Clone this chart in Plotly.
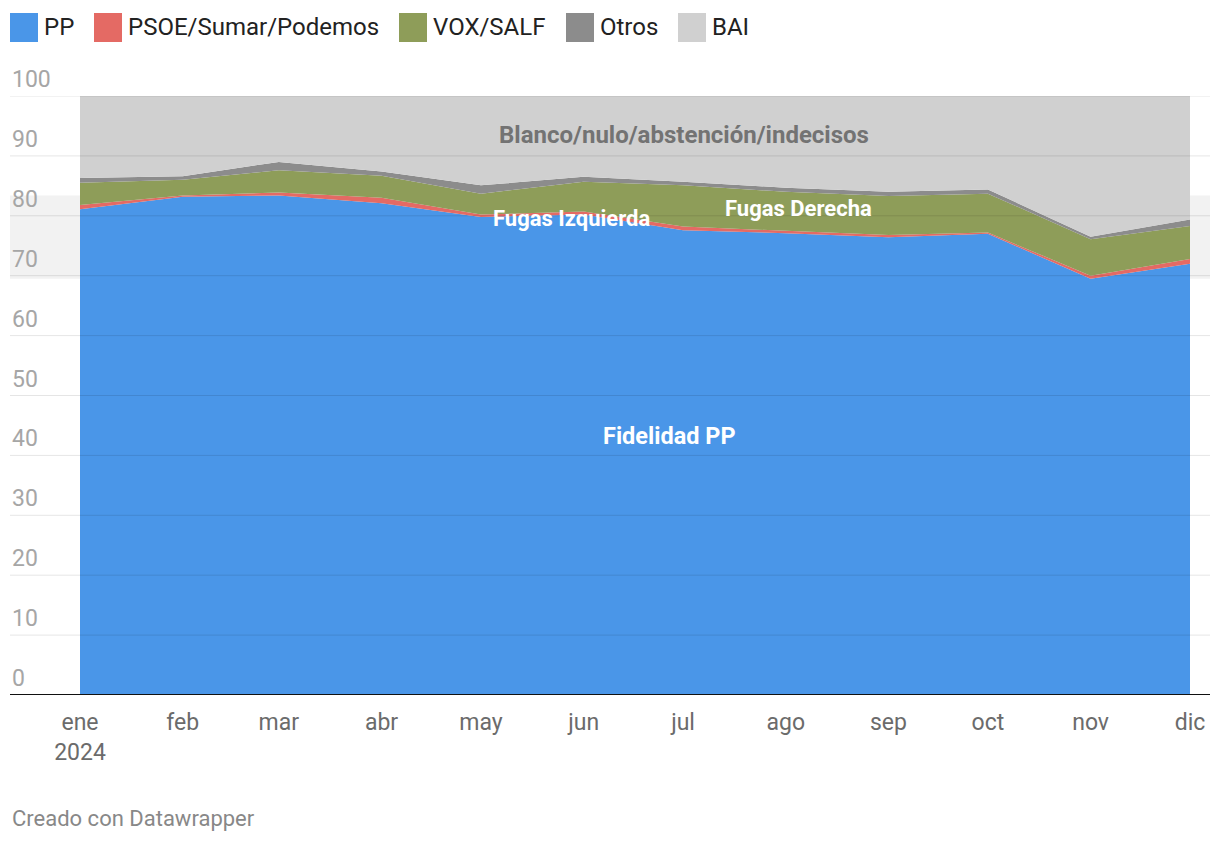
import plotly.graph_objects as go

# Monthly data, 2024 (stacked shares, %)
months = ["2024-01-01", "2024-02-01", "2024-03-01", "2024-04-01", "2024-05-01", "2024-06-01",
          "2024-07-01", "2024-08-01", "2024-09-01", "2024-10-01", "2024-11-01", "2024-12-01"]
month_labels = ["ene<br>2024", "feb", "mar", "abr", "may", "jun",
                "jul", "ago", "sep", "oct", "nov", "dic"]

pp = [81.1, 83.2, 83.4, 82.1, 79.8, 80.2, 77.6, 77.1, 76.4, 77.0, 69.5, 72.0]
psoe = [0.7, 0.2, 0.5, 0.9, 0.4, 0.5, 0.6, 0.4, 0.4, 0.2, 0.5, 0.8]
vox = [3.7, 2.6, 3.7, 3.7, 3.5, 5.0, 6.9, 6.5, 6.5, 6.5, 6.1, 5.5]
otros = [0.8, 0.6, 1.4, 0.7, 1.4, 0.8, 0.6, 0.7, 0.7, 0.7, 0.4, 1.1]
bai = [13.7, 13.4, 11.0, 12.6, 14.9, 13.5, 14.3, 15.3, 16.0, 15.6, 23.5, 20.6]

series = [
    ("PP", pp, "#4a96e8"),
    ("PSOE/Sumar/Podemos", psoe, "#e46a64"),
    ("VOX/SALF", vox, "#8e9d59"),
    ("Otros", otros, "#8c8c8c"),
    ("BAI", bai, "#d0d0d0"),
]

# highlighted range behind the chart
band_low, band_high = 69.5, 83.4

# pixel geometry of the plot area (page coords); the page body adds an 8px offset
OFF = 8
L, R, T, B = 80, 1190, 96, 695
W, H = R - L, B - T
FIG_W, FIG_H = 1220 - OFF, 844 - OFF


def px_x(p):
    return (p - L) / W


def px_y(p):
    return (B - p) / H


fig = go.Figure()

for name, vals, color in series:
    fig.add_trace(go.Scatter(
        x=months, y=vals, name=name, mode="lines",
        stackgroup="one", line=dict(width=0, color=color),
        fillcolor=color, showlegend=False, hoverinfo="x+y+name"
    ))

shapes = []
# highlight band (below)
shapes.append(dict(type="rect", xref="paper", yref="y", layer="below",
                   x0=px_x(10), x1=px_x(1210), y0=band_low, y1=band_high,
                   fillcolor="#f2f2f2", line=dict(width=0)))
# gridlines (above, faint)
for v in range(10, 101, 10):
    shapes.append(dict(type="line", xref="paper", yref="y", layer="above",
                       x0=px_x(10), x1=px_x(1210), y0=v, y1=v,
                       line=dict(color="rgba(0,0,0,0.1)", width=1)))
# baseline
shapes.append(dict(type="line", xref="paper", yref="y", layer="above",
                   x0=px_x(10), x1=px_x(1210), y0=0, y1=0,
                   line=dict(color="#111111", width=2)))

annotations = []
# y labels above gridlines
for v in range(0, 101, 10):
    annotations.append(dict(x=px_x(10), y=v, xref="paper", yref="y",
                            text=str(v), showarrow=False, xanchor="left", yanchor="bottom",
                            yshift=1, font=dict(size=23, color="#a6a6a6")))

# legend (manual)
legend_items = [("PP", 10), ("PSOE/Sumar/Podemos", 94), ("VOX/SALF", 399),
                ("Otros", 566), ("BAI", 678)]
for (name, vals, color), (label, x0) in zip(series, legend_items):
    shapes.append(dict(type="rect", xref="paper", yref="paper",
                       x0=px_x(x0), x1=px_x(x0 + 28), y0=px_y(42), y1=px_y(13),
                       fillcolor=color, line=dict(width=0)))
    annotations.append(dict(x=px_x(x0 + 32), y=px_y(27), xref="paper", yref="paper",
                            text=label, showarrow=False, xanchor="left", yanchor="middle",
                            font=dict(size=24, color="#222222")))

# inline labels
annotations += [
    dict(x=px_x(684), y=93.5, xref="paper", yref="y", text="<b>Blanco/nulo/abstención/indecisos</b>",
         showarrow=False, font=dict(size=24, color="#737373")),
    dict(x=px_x(571), y=79.6, xref="paper", yref="y", text="<b>Fugas Izquierda</b>",
         showarrow=False, font=dict(size=22, color="white")),
    dict(x=px_x(798), y=81.3, xref="paper", yref="y", text="<b>Fugas Derecha</b>",
         showarrow=False, font=dict(size=22, color="white")),
    dict(x=px_x(669), y=43.2, xref="paper", yref="y", text="<b>Fidelidad PP</b>",
         showarrow=False, font=dict(size=23.5, color="white")),
    dict(x=px_x(10), y=px_y(818), xref="paper", yref="paper", text="Creado con Datawrapper",
         showarrow=False, xanchor="left", yanchor="middle", font=dict(size=22, color="#888888")),
]

fig.update_layout(
    width=FIG_W, height=FIG_H,
    margin=dict(l=L - OFF, r=FIG_W - (R - OFF), t=T - OFF, b=FIG_H - (B - OFF), pad=0),
    paper_bgcolor="white", plot_bgcolor="rgba(0,0,0,0)",
    font=dict(family="Roboto, sans-serif"),
    shapes=shapes, annotations=annotations,
    xaxis=dict(type="date", range=[months[0], months[-1]], tickvals=months, ticktext=month_labels,
               showgrid=False, zeroline=False, showline=False, ticks="",
               tickfont=dict(size=23, color="#6b6b6b"), ticklabelstandoff=11),
    yaxis=dict(range=[0, 100], showgrid=False, zeroline=False, showticklabels=False, fixedrange=True),
    hovermode="x",
)

fig.write_html("out.html")
